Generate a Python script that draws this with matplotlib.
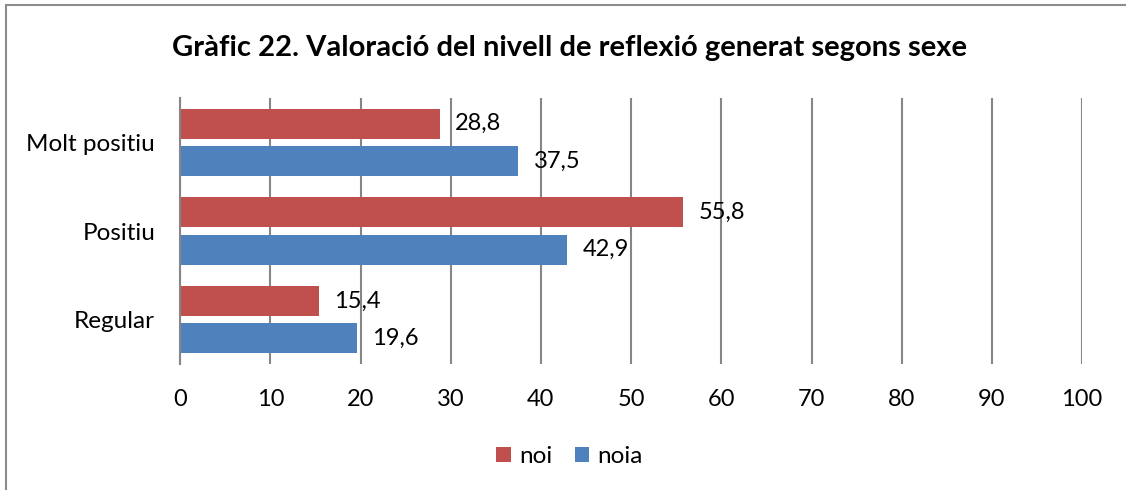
import matplotlib.pyplot as plt
from matplotlib.patches import Rectangle
import numpy as np

plt.rcParams['font.family'] = ['Lato', 'DejaVu Sans']

# define data
title = 'Gràfic 22. Valoració del nivell de reflexió generat segons sexe'
categories = ['Molt positiu', 'Positiu', 'Regular']
noi = [28.8, 55.8, 15.4]
noia = [37.5, 42.9, 19.6]
series_names = ['noi', 'noia']
xticks = [0, 10, 20, 30, 40, 50, 60, 70, 80, 90, 100]

# define colors
red = '#C0504D'
blue = '#4F81BD'
grid = '#868686'

fig = plt.figure(figsize=(11.26, 4.90), dpi=100)
ax = fig.add_axes([0.16, 0.257, 0.801, 0.543])

# positions: first category at the top
y = np.arange(len(categories))[::-1]
h = 0.337
off = 0.21

bars_noi = ax.barh(y + off, noi, height=h, color=red, label=series_names[0])
bars_noia = ax.barh(y - off, noia, height=h, color=blue, label=series_names[1])

# data labels with comma decimals
for bars, vals in [(bars_noi, noi), (bars_noia, noia)]:
    for b, v in zip(bars, vals):
        ax.annotate(f'{v:.1f}'.replace('.', ','),
                    (b.get_width(), b.get_y() + b.get_height() / 2),
                    xytext=(11, 0), textcoords='offset points',
                    va='center', ha='left', fontsize=17)

ax.set_xlim(0, 100)
ax.set_ylim(-0.5, len(categories) - 0.5)
ax.set_xticks(xticks)
ax.set_yticks(y)
ax.set_yticklabels(categories)
ax.tick_params(axis='x', length=0, labelsize=17, pad=18)
ax.tick_params(axis='y', length=0, labelsize=17.5, pad=18)

# vertical gridlines
ax.set_axisbelow(True)
ax.grid(axis='x', color=grid, linewidth=1.5)
for s in ['top', 'right', 'bottom']:
    ax.spines[s].set_visible(False)
ax.spines['left'].set_color(grid)
ax.spines['left'].set_linewidth(1.5)

fig.text(0.506, 0.902, title, ha='center', va='center',
         fontsize=21, fontweight='bold')

# legend at the bottom
ax.legend(loc='center', bbox_to_anchor=(0.506, 0.068), bbox_transform=fig.transFigure,
          ncol=2, frameon=False, fontsize=17.5, handlelength=0.6, handleheight=0.6,
          handletextpad=0.35, columnspacing=0.9)

# chart border
fig.patches.append(Rectangle((5.5 / 1126, -0.1), 1.2, 1.1 - 5.5 / 490,
                             transform=fig.transFigure, fill=False,
                             edgecolor='#8C8C8C', linewidth=1.5))

fig.savefig('out.png', dpi=100)
